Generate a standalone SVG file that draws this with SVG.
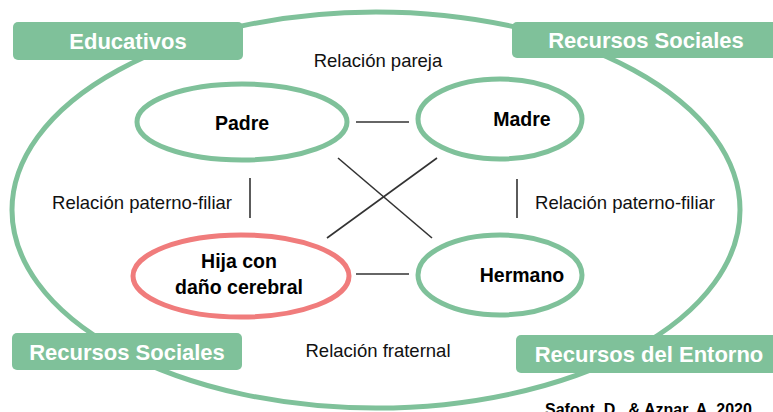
<svg xmlns="http://www.w3.org/2000/svg" width="773" height="412" viewBox="0 0 773 412">
<style>
.g{fill:none;stroke:#7FC19A;stroke-width:5}
.r{fill:none;stroke:#F07C7C;stroke-width:5}
.box{fill:#7FC19A}
.bt{font-family:"Liberation Sans",Arial,sans-serif;font-weight:bold;font-size:22px;fill:#fff;text-anchor:middle}
.nt{font-family:"Liberation Sans",Arial,sans-serif;font-weight:bold;font-size:19.5px;fill:#000;text-anchor:middle}
.lt{font-family:"Liberation Sans",Arial,sans-serif;font-size:18.5px;fill:#111;text-anchor:middle}
.c line{stroke:#333;stroke-width:1.6}
</style>
<rect width="773" height="412" fill="#fff"/>
<g id="entorno-ellipse"><ellipse class="g" cx="376" cy="210" rx="364" ry="198"/></g>
<g id="box-educativos"><rect class="box" x="13" y="22" width="230" height="38" rx="5"/><text class="bt" x="128" y="49">Educativos</text></g>
<g id="box-recursos-sociales-top"><rect class="box" x="512" y="22" width="270" height="36" rx="5"/><text class="bt" x="646" y="48">Recursos Sociales</text></g>
<g id="box-recursos-sociales-bottom"><rect class="box" x="12" y="333" width="230" height="37" rx="5"/><text class="bt" x="127" y="360">Recursos Sociales</text></g>
<g id="box-recursos-entorno"><rect class="box" x="516" y="335" width="266" height="38" rx="5"/><text class="bt" x="649" y="362">Recursos del Entorno</text></g>
<g class="c" id="connectors">
<line x1="356" y1="122" x2="409" y2="122"/>
<line x1="356" y1="274" x2="409" y2="274"/>
<line x1="338" y1="158" x2="432" y2="238"/>
<line x1="437" y1="158" x2="327" y2="238"/>
<line x1="250" y1="178" x2="250" y2="218"/>
<line x1="517" y1="179" x2="517" y2="218"/>
</g>
<g id="padre"><ellipse class="g" cx="242" cy="122" rx="105" ry="38"/><text class="nt" x="242" y="130">Padre</text></g>
<g id="madre"><ellipse class="g" cx="500" cy="119" rx="82" ry="40"/><text class="nt" x="522" y="126">Madre</text></g>
<g id="hija"><ellipse class="r" cx="241" cy="276" rx="108" ry="41"/><text class="nt" x="239" y="268">Hija con</text><text class="nt" x="239" y="294">daño cerebral</text></g>
<g id="hermano"><ellipse class="g" cx="500" cy="275" rx="82" ry="40"/><text class="nt" x="522" y="282">Hermano</text></g>
<g id="labels">
<text class="lt" x="378" y="67">Relación pareja</text>
<text class="lt" x="142" y="209">Relación paterno-filiar</text>
<text class="lt" x="625" y="209">Relación paterno-filiar</text>
<text class="lt" x="378" y="357">Relación fraternal</text>
<text x="545" y="415" style="font-family:'Liberation Sans',Arial,sans-serif;font-weight:bold;font-size:16px;fill:#000">Safont, D., &amp; Aznar, A. 2020</text>
</g>
</svg>
